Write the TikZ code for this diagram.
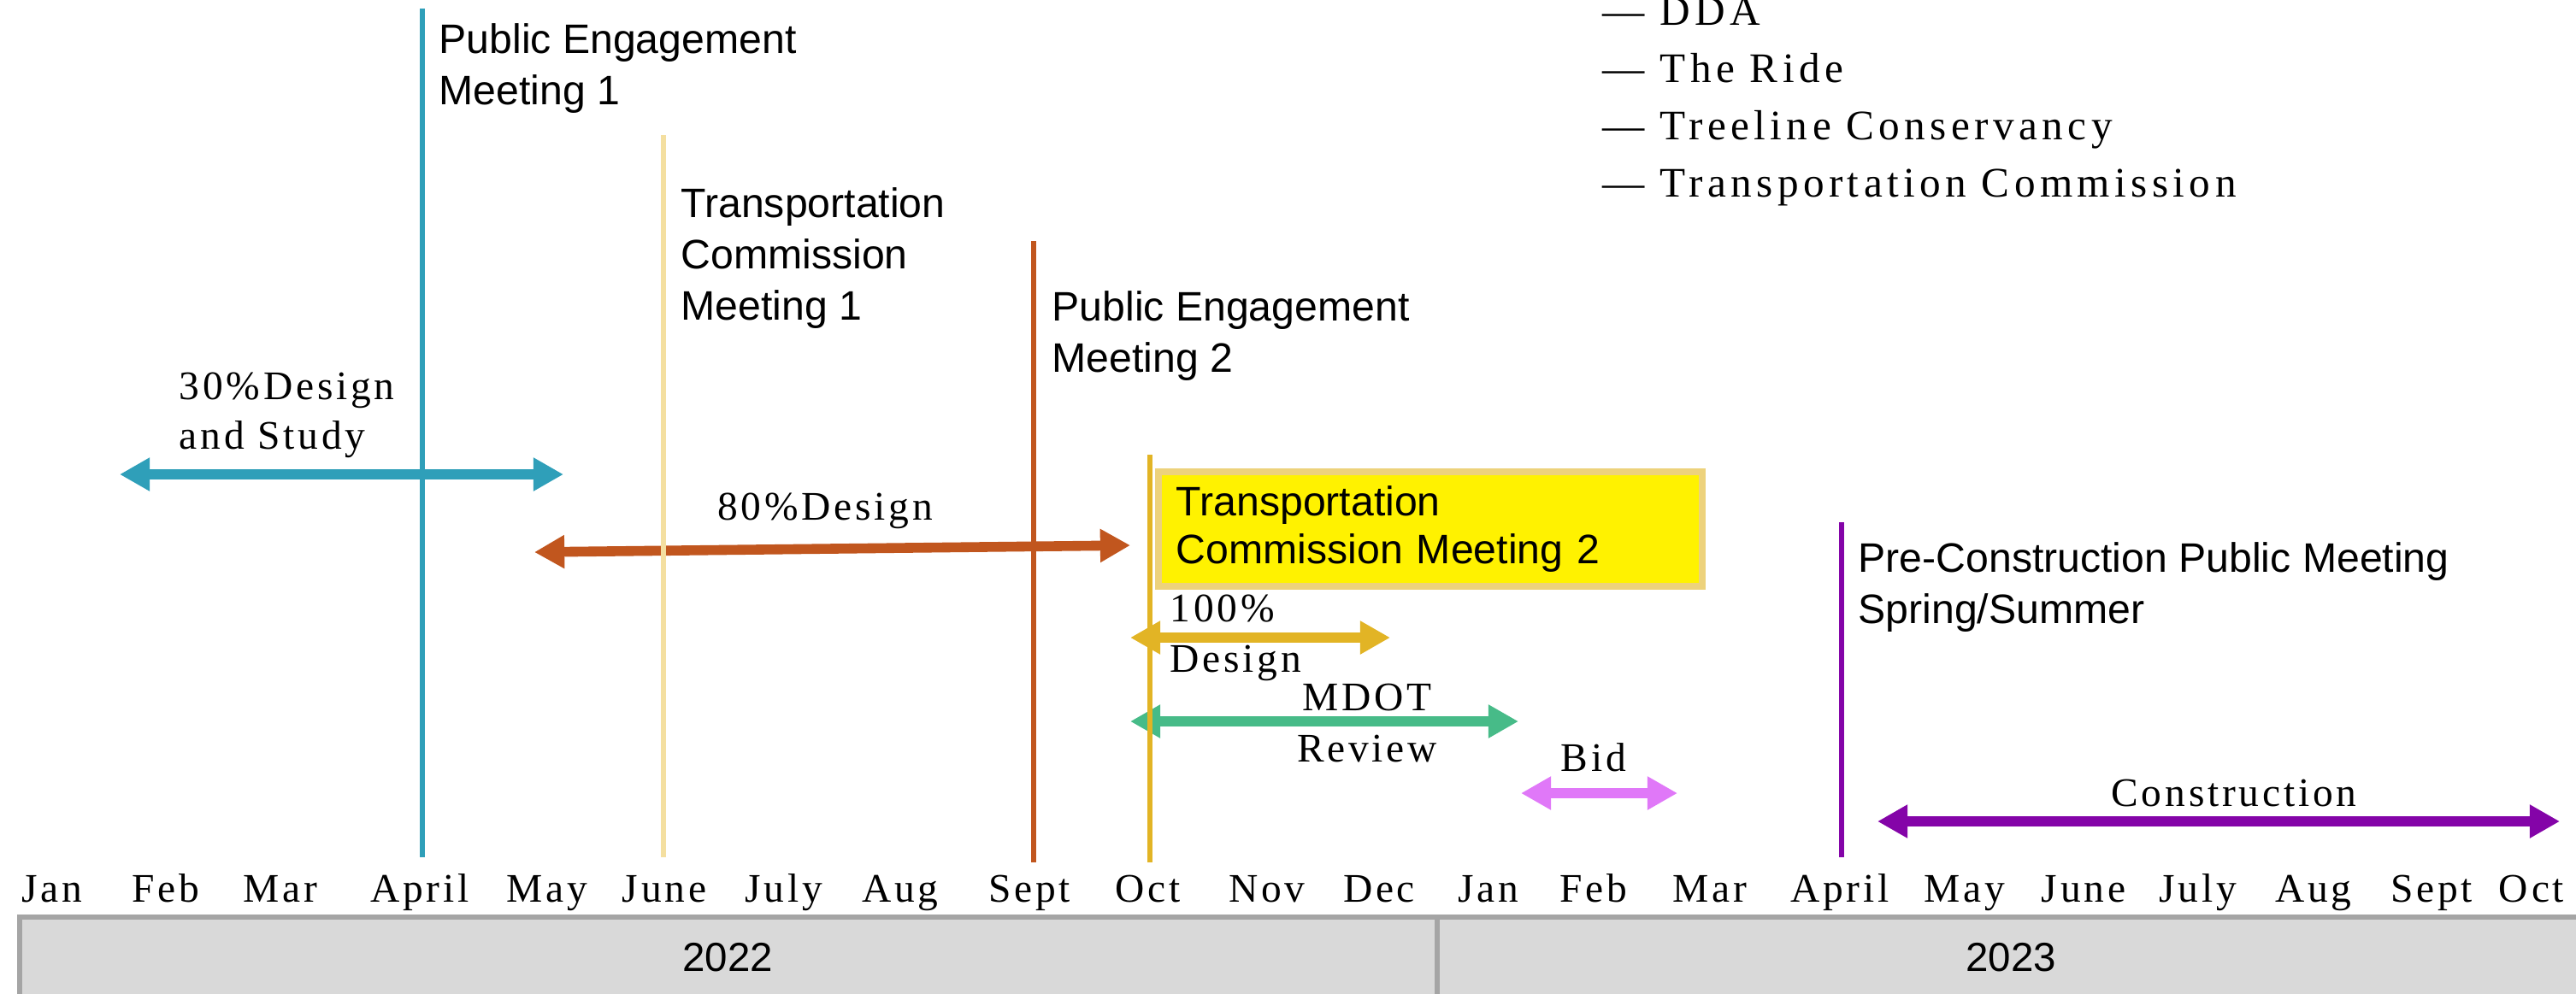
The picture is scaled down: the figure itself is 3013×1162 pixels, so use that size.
\documentclass[tikz,border=0pt]{standalone}
\usepackage{fontspec}
\setmainfont{Liberation Serif}[LetterSpace=8]
\newfontfamily\labelfont{Liberation Sans}
\usetikzlibrary{arrows.meta}
\definecolor{pemteal}{HTML}{2F9FB9}
\definecolor{tcmcream}{HTML}{F4DFA0}
\definecolor{pemrust}{HTML}{C1561E}
\definecolor{tcmgold}{HTML}{E2B425}
\definecolor{revgreen}{HTML}{47BB88}
\definecolor{bidpink}{HTML}{E078F8}
\definecolor{conpurple}{HTML}{8404A8}
\definecolor{boxedge}{HTML}{EDD27C}
\definecolor{yeargrey}{HTML}{D9D9D9}
\definecolor{yearedge}{HTML}{A5A5A5}
\tikzset{
  spanarrow/.style={line width=3.3pt, {Triangle[width=10.5pt,length=10pt]}-{Triangle[width=10.5pt,length=10pt]}},
  milestone/.style={line width=1.6pt},
  mtext/.style={font=\labelfont\fontsize{13.7}{17}\selectfont, align=left, anchor=north west, inner sep=0pt},
  stext/.style={font=\fontsize{13.5}{16.5}\selectfont, inner sep=0pt},
  month/.style={font=\fontsize{13.5}{16}\selectfont, anchor=base, inner sep=0pt},
  legend/.style={font=\fontsize{14}{19}\selectfont\addfontfeatures{LetterSpace=11}, anchor=base west, inner sep=0pt},
  yearbox/.style={fill=yeargrey, draw=yearedge, line width=1.5pt},
  yeartext/.style={font=\labelfont\fontsize{13.5}{16}\selectfont, inner sep=0pt}
}
\begin{document}
\begin{tikzpicture}[x=0.01cm, y=-0.01cm]
\useasboundingbox (0,0) rectangle (3013,1162);

\node[legend] (lgdda) at (1874,29) {— DDA};
\node[legend] (lgride) at (1874,96) {— The Ride};
\node[legend] (lgtree) at (1874,163) {— Treeline Conservancy};
\node[legend] (lgtc) at (1874,230) {— Transportation Commission};

\draw[spanarrow, pemteal] (140,555) -- (659,555);
\draw[spanarrow, pemrust] (625,646) -- (1322,638);
\draw[spanarrow, tcmgold] (1322,746) -- (1626,746);
\draw[spanarrow, revgreen] (1322,844) -- (1776,844);
\draw[spanarrow, bidpink] (1779,928) -- (1962,928);
\draw[spanarrow, conpurple] (2196,961) -- (2994,961);

\draw[milestone, pemteal] (494,10) -- (494,1003);
\draw[milestone, tcmcream] (776,158) -- (776,1003);
\draw[milestone, pemrust] (1209,282) -- (1209,1009);
\draw[milestone, tcmgold] (1345,532) -- (1345,1009);
\draw[milestone, conpurple] (2154,611) -- (2154,1003);

\node[mtext] (pem1) at (513,27) {Public Engagement\\Meeting 1};
\node[mtext] (tcm1) at (796,219) {Transportation\\Commission\\Meeting 1};
\node[mtext] (pem2) at (1230,340) {Public Engagement\\Meeting 2};
\node[mtext] (precon) at (2173,634) {Pre-Construction Public Meeting\\Spring/Summer};
\node[draw=boxedge, fill=yellow, line width=2.2pt, anchor=north west,
  minimum width=6.36cm, minimum height=1.34cm, text width=5.94cm, inner xsep=0.21cm,
  align=left, font=\labelfont\fontsize{13.7}{15.8}\selectfont] (tcm2) at (1351,548)
  {Transportation\\Commission Meeting 2};

\node[stext, align=left, anchor=west] (d30) at (209,486) {30\%Design\\and Study};
\node[stext] (d80) at (965,598) {80\%Design};
\node[stext, align=left, anchor=west, font=\fontsize{13.5}{16.8}\selectfont] (d100) at (1368,746) {100\%\\Design};
\node[stext, align=center, font=\fontsize{13.5}{16.8}\selectfont] (mdot) at (1599,846) {MDOT\\Review};
\node[stext] (bid) at (1864,886) {Bid};
\node[stext] (constr) at (2613,928) {Construction};

\foreach \m/\x [count=\i] in {Jan/61,Feb/194,Mar/328,April/491,May/640,June/777,July/917,Aug/1053,Sept/1204,Oct/1343,Nov/1482,Dec/1613}
  \node[month] (m22-\i) at (\x,1055) {\m};
\foreach \m/\x [count=\i] in {Jan/1741,Feb/1864,Mar/2000,April/2152,May/2298,June/2437,July/2571,Aug/2706,Sept/2844,Oct/2961}
  \node[month] (m23-\i) at (\x,1055) {\m};

\draw[yearbox] (23,1073) rectangle (1681,1180);
\draw[yearbox] (1681,1073) rectangle (3030,1180);
\node[yeartext] (y22) at (851,1120) {2022};
\node[yeartext] (y23) at (2352,1120) {2023};
\end{tikzpicture}
\end{document}
